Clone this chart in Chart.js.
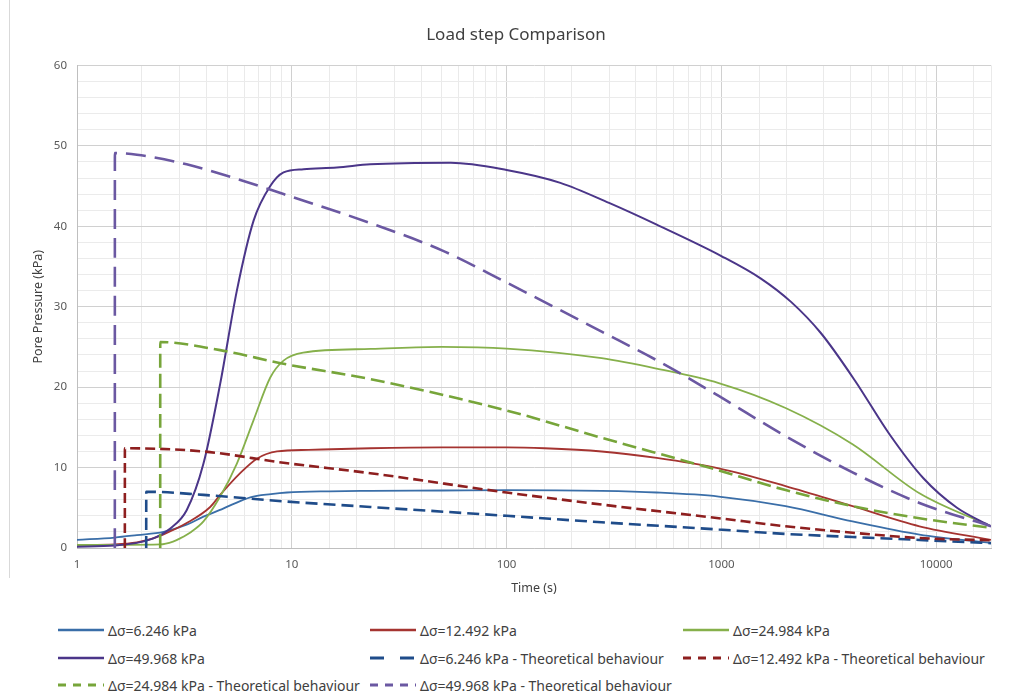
<!DOCTYPE html>
<html>
<head>
<meta charset="utf-8">
<script src="https://cdn.jsdelivr.net/npm/chart.js@4.4.1/dist/chart.umd.min.js"></script>
<style>
  body { margin: 0; background: #fff; font-family: "Noto Sans", sans-serif; }
  #wrap { position: relative; width: 1012px; height: 695px; overflow: hidden; }
  #frame { position: absolute; left: 9px; top: 0; width: 1px; height: 578px; background: #d9d9d9; }
  #chart { position: absolute; left: 0; top: 0; }
  .item { position: absolute; height: 20px; display: flex; align-items: center;
          font-size: 14px; color: #404040; white-space: nowrap; }
  .item svg { margin-right: 4px; }
</style>
</head>
<body>
<div id="wrap">
  <div id="frame"></div>
  <canvas id="chart" width="1012" height="605"></canvas>
  <div id="legend"></div>
</div>
<script>
// measured pore pressure (kPa) against time (s)
const time6 = [1, 1.5, 1.9, 2.53, 3.24, 3.88, 4.6, 5.17, 6.41, 8, 9.5, 15, 23.3, 50, 100, 277, 500, 972, 1990, 4080, 8360, 18000];
const pore6 = [1.0, 1.3, 1.6, 2.0, 2.9, 3.9, 4.7, 5.3, 6.3, 6.7, 6.9, 7.05, 7.1, 7.15, 7.2, 7.1, 6.9, 6.4, 5.2, 3.3, 1.66, 0.62];

const time12 = [1, 1.5, 1.9, 2.2, 2.53, 3.24, 4.17, 4.64, 5.75, 6.88, 8.54, 12, 23.3, 50, 100, 150, 277, 500, 972, 1990, 4080, 8360, 18000];
const pore12 = [0.37, 0.45, 0.7, 1.1, 1.7, 3.1, 5.1, 6.6, 9.3, 11.1, 12.0, 12.2, 12.4, 12.5, 12.5, 12.4, 12.0, 11.2, 9.9, 7.7, 5.2, 2.7, 1.0];

const time25 = [1, 2.44, 2.8, 3.02, 3.4, 3.88, 4.64, 5.55, 6.64, 7.94, 9.15, 11.3, 23.3, 50, 100, 277, 500, 972, 1990, 4080, 8360, 18000];
const pore25 = [0.37, 0.45, 0.8, 1.2, 2.0, 3.3, 6.4, 10.5, 15.9, 21.2, 23.3, 24.3, 24.75, 25.0, 24.8, 23.6, 22.3, 20.5, 17.4, 12.9, 6.8, 2.7];

const time50 = [1, 1.5, 2.27, 2.71, 3.24, 3.88, 4.64, 5.55, 6.64, 7.94, 9.15, 11.35, 16.2, 23.2, 55, 100, 178, 300, 500, 1000, 1528, 2110, 2910, 4190, 6040, 8700, 12500, 18000];
const pore50 = [0.17, 0.3, 1.2, 2.4, 4.7, 10.5, 20.4, 32, 40.7, 45, 46.7, 47.1, 47.3, 47.7, 47.9, 47.0, 45.4, 42.9, 40.2, 36.3, 33.5, 30.6, 26.7, 20.8, 14.2, 8.7, 5.0, 2.7];

// theoretical behaviour
const thTime6 = [2.1, 2.101, 3.88, 9.15, 23.2, 100, 277, 972, 1990, 4080, 8360, 18000];
const thPore6 = [0, 7.0, 6.6, 5.8, 5.1, 4.0, 3.2, 2.3, 1.75, 1.37, 1.0, 0.6];

const thTime12 = [1.67, 1.671, 3.88, 9.15, 23.2, 100, 277, 972, 1990, 4080, 8360, 18000];
const thPore12 = [0, 12.4, 12.0, 10.6, 9.3, 6.9, 5.4, 3.7, 2.7, 1.9, 1.24, 0.95];

const thTime25 = [2.44, 2.441, 4.64, 9.15, 23.2, 100, 277, 900, 1990, 4080, 8360, 18000];
const thPore25 = [0, 25.6, 24.6, 22.9, 21.0, 17.1, 13.7, 9.9, 7.2, 5.2, 3.7, 2.5];

const thTime50 = [1.5, 1.501, 1.9, 3.24, 5.55, 9.15, 23.2, 50, 100, 277, 528, 972, 1990, 4080, 8360, 18000];
const thPore50 = [0, 49.1, 48.9, 47.7, 45.9, 44.0, 40.4, 37.0, 33.0, 26.9, 23.0, 18.9, 13.9, 9.4, 5.6, 2.7];

const labels = [
  'Δσ=6.246 kPa', 'Δσ=12.492 kPa', 'Δσ=24.984 kPa', 'Δσ=49.968 kPa',
  'Δσ=6.246 kPa - Theoretical behaviour', 'Δσ=12.492 kPa - Theoretical behaviour',
  'Δσ=24.984 kPa - Theoretical behaviour', 'Δσ=49.968 kPa - Theoretical behaviour'
];
const xTicks = [1, 10, 100, 1000, 10000];

const times = [time6, time12, time25, time50, thTime6, thTime12, thTime25, thTime50];
const pores = [pore6, pore12, pore25, pore50, thPore6, thPore12, thPore25, thPore50];
const colors = ['#3a6ea8', '#a53431', '#86b04b', '#4b3689', '#1f4c8a', '#8e1f1f', '#77a53a', '#6b58a2'];
const dashes = [[], [], [], [], [12, 6], [10, 5], [14, 6], [20, 9]];
const widths = [1.8, 1.8, 1.8, 2, 2.6, 2.6, 2.6, 2.6];

function isPow10(v) {
    const lg = Math.log10(v);
    return Math.abs(lg - Math.round(lg)) < 1e-9;
}

const datasets = labels.map((lab, i) => ({
    label: lab,
    data: times[i].map((t, k) => ({ x: t, y: pores[i][k] })),
    borderColor: colors[i],
    borderWidth: widths[i],
    borderDash: dashes[i],
    pointRadius: 0,
    fill: false,
    cubicInterpolationMode: 'monotone',
    order: 10 - i
}));

const tickFont = { family: 'Noto Sans', size: 11.5 };
const titleFont = { family: 'Noto Sans', size: 12.5 };

new Chart(document.getElementById('chart'), {
    type: 'line',
    data: { datasets: datasets },
    options: {
        responsive: false,
        animation: false,
        events: [],
        layout: { padding: { left: 20, right: 0, top: 0, bottom: 0 } },
        plugins: {
            legend: { display: false },
            tooltip: { enabled: false },
            title: {
                display: true,
                text: 'Load step Comparison',
                color: '#404040',
                font: { family: 'Noto Sans', size: 17, weight: 'normal' },
                padding: { top: 25, bottom: 20 }
            }
        },
        scales: {
            x: {
                type: 'logarithmic',
                min: 1,
                max: 18000,
                border: { color: '#bfbfbf' },
                grid: {
                    drawTicks: false,
                    color: ctx => isPow10(ctx.tick.value) ? '#d0d0d0' : '#eaeaea'
                },
                ticks: {
                    autoSkip: false,
                    maxRotation: 0,
                    padding: 10,
                    color: '#595959',
                    font: tickFont,
                    callback: v => xTicks.includes(v) ? String(v) : ''
                },
                title: { display: true, text: 'Time (s)', color: '#404040', font: titleFont, padding: { top: 0, bottom: 9.5 } },
                afterFit: s => { s.height = 57; }
            },
            y: {
                min: 0,
                max: 60,
                border: { color: '#bfbfbf' },
                grid: {
                    drawTicks: false,
                    color: ctx => ctx.tick.value % 10 === 0 ? '#d0d0d0' : '#ebebeb'
                },
                ticks: {
                    stepSize: 2,
                    autoSkip: false,
                    padding: 10,
                    color: '#595959',
                    font: tickFont,
                    callback: v => v % 10 === 0 ? v : ''
                },
                title: { display: true, text: 'Pore Pressure (kPa)', color: '#404040', font: titleFont, padding: { top: 10.5, bottom: 0 } },
                afterFit: s => { s.width = 57; }
            },
            yRight: {
                position: 'right',
                display: true,
                grid: { display: false },
                border: { display: false },
                ticks: { display: false },
                afterFit: s => { s.width = 21; }
            }
        }
    }
});

// legend laid out like the spreadsheet one
const legendCols = [58, 370, 683, 58, 370, 683, 58, 370];
const legendRows = [630, 630, 630, 658, 658, 658, 685, 685];
const legend = document.getElementById('legend');
labels.forEach((lab, i) => {
    const div = document.createElement('div');
    div.className = 'item';
    div.style.left = legendCols[i] + 'px';
    div.style.top = (legendRows[i] - 10) + 'px';
    const dash = i < 4 ? '' : (i === 4 ? '14 16' : '8 7');
    div.innerHTML = '<svg width="46" height="10"><line x1="0" y1="5" x2="46" y2="5" stroke="' + colors[i] +
        '" stroke-width="' + (i < 4 ? 2.5 : 3) + '" stroke-dasharray="' + dash + '"/></svg><span>' + lab + '</span>';
    legend.appendChild(div);
});
</script>
</body>
</html>
